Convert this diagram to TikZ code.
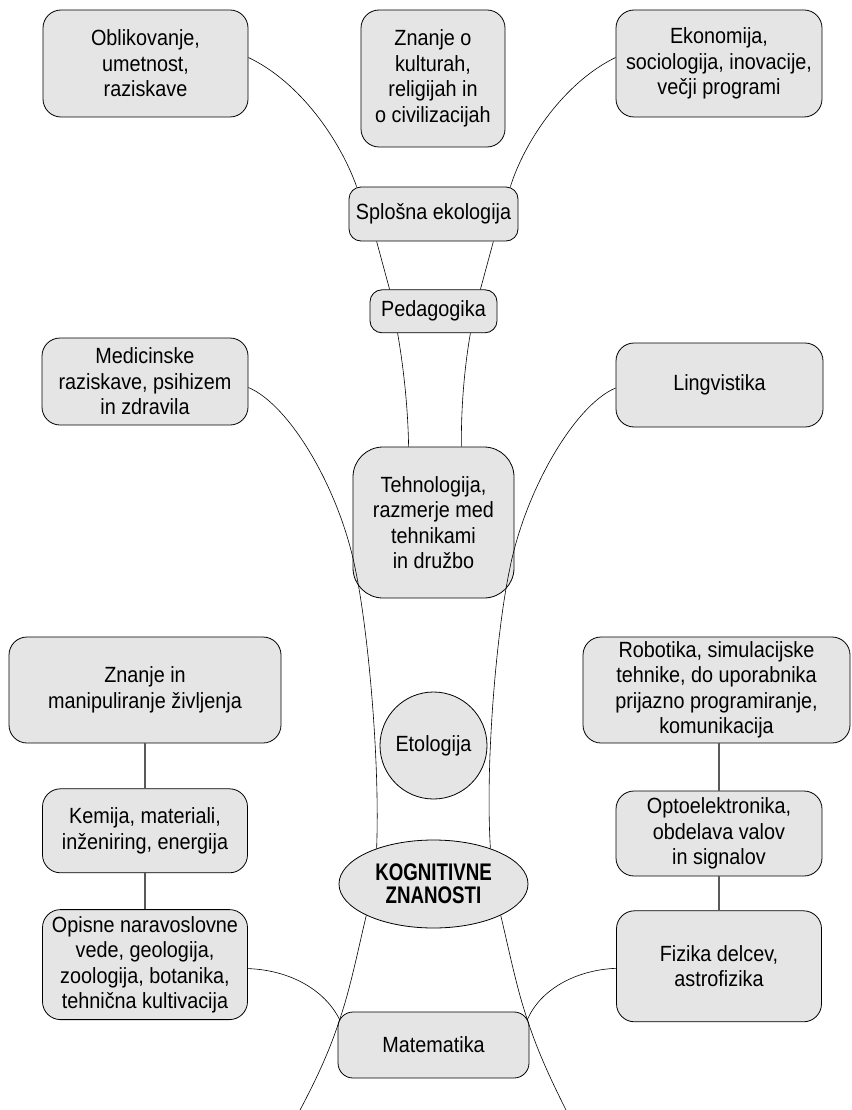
\documentclass[tikz,border=0pt]{standalone}
\usepackage{fontspec}
\setmainfont{Liberation Sans}[FakeStretch=0.9]
\newfontfamily\kogfont{Liberation Sans}[FakeStretch=0.78]
\usetikzlibrary{shapes.geometric, positioning}

\begin{document}
\begin{tikzpicture}[x=1pt, y=-1pt,
    box/.style={draw, line width=0.8pt, fill=black!10, rounded corners=18pt,
      align=center, font=\fontsize{22}{25.5}\selectfont},
    tag/.style={box, rounded corners=12pt},
    link/.style={line width=0.6pt},
    stem/.style={line width=1.6pt, black!65}]

\useasboundingbox (0,0) rectangle (851,1110);

% top row
\node[box, minimum width=205pt, minimum height=107pt] (obl) at (145.5,63.5) {Oblikovanje,\\umetnost,\\raziskave};
\node[box, minimum width=144pt, minimum height=137pt] (kul) at (433,78.5) {Znanje o\\kulturah,\\religijah in\\o civilizacijah};
\node[box, minimum width=206pt, minimum height=107pt] (eko) at (719,63.5) {Ekonomija,\\sociologija, inovacije,\\večji programi};

\node[tag, minimum width=169pt, minimum height=54pt] (spl) at (433.5,214) {Splošna ekologija};
\node[tag, minimum width=127pt, minimum height=43pt, below=48pt of spl] (ped) {Pedagogika};

% middle
\node[box, minimum width=206pt, minimum height=87pt] (med) at (145,381.5) {Medicinske\\raziskave, psihizem\\in zdravila};
\node[box, minimum width=207pt, minimum height=84pt] (ling) at (719.5,385) {Lingvistika};
\node[box, rounded corners=30pt, minimum width=161pt, minimum height=151pt] (tech) at (433.5,522.5) {Tehnologija,\\razmerje med\\tehnikami\\in družbo};

% left column
\node[box, minimum width=272pt, minimum height=106pt] (man) at (145,690) {Znanje in\\manipuliranje življenja};
\node[box, minimum width=205pt, minimum height=84pt, below=45pt of man] (kem) {Kemija, materiali,\\inženiring, energija};
\node[box, minimum width=205pt, minimum height=110pt, below=36pt of kem] (opi) {Opisne naravoslovne\\vede, geologija,\\zoologija, botanika,\\tehnična kultivacija};

% centre
\node[box, circle, minimum size=107pt, inner sep=0pt] (eto) at (433.5,745.5) {Etologija};
\node[box, ellipse, minimum width=189pt, minimum height=88pt, inner sep=0pt,
  font=\kogfont\bfseries\fontsize{24}{23}\selectfont] (kog) at (433.5,884) {KOGNITIVNE\\ZNANOSTI};
\node[box, rounded corners=15pt, minimum width=191pt, minimum height=66pt] (mat) at (433.5,1045) {Matematika};

% right column
\node[box, minimum width=267pt, minimum height=106pt] (rob) at (716.5,690) {Robotika, simulacijske\\tehnike, do uporabnika\\prijazno programiranje,\\komunikacija};
\node[box, minimum width=206pt, minimum height=85pt] (opt) at (719,833.5) {Optoelektronika,\\obdelava valov\\in signalov};
\node[box, minimum width=205pt, minimum height=111pt, below=34pt of opt] (fiz) {Fizika delcev,\\astrofizika};

\coordinate (tl) at ([shift={(3pt,-48pt)}]tech.west);
\coordinate (tr) at ([shift={(-5pt,-48pt)}]tech.east);
\coordinate (ml) at ([shift={(2pt,-8pt)}]mat.north west);
\coordinate (mr) at ([shift={(-2pt,-8pt)}]mat.north east);
\coordinate (bl) at (300,1110);
\coordinate (br) at (566,1110);

% upper spine
\draw[link] ([yshift=6pt]obl.east) .. controls (300,82) and (340,140) .. ([xshift=8pt]spl.north west);
\draw[link] ([yshift=6pt]eko.west) .. controls (565,82) and (525,140) .. ([xshift=-8pt]spl.north east);
\draw[link] ([xshift=28pt]spl.south west) -- ([xshift=20pt]ped.north west);
\draw[link] ([xshift=-25pt]spl.south east) -- ([xshift=-17pt]ped.north east);
\draw[link] ([xshift=28pt]ped.south west) .. controls (404,370) and (408,410) .. ([xshift=56pt]tech.north west);
\draw[link] ([xshift=-27pt]ped.south east) .. controls (464,370) and (461,410) .. ([xshift=-53pt]tech.north east);

% long curves
\draw[link] ([yshift=-6pt]med.east) .. controls (290,405) and (340,490) .. (tl)
  .. controls (368,630) and (380,760) .. (kog.148);
\draw[link] ([yshift=-3pt]ling.west) .. controls (575,405) and (525,490) .. (tr)
  .. controls (497,630) and (485,760) .. (kog.32);

% lower spine
\draw[link] (kog.205) .. controls (358,950) and (350,990) .. (ml)
  .. controls (330,1050) and (316,1080) .. (bl);
\draw[link] (kog.-25) .. controls (509,950) and (517,990) .. (mr)
  .. controls (537,1050) and (551,1080) .. (br);
\draw[link] ([yshift=-4pt]opi.east) .. controls (290,970) and (325,990) .. (ml);
\draw[link] ([yshift=-2pt]fiz.west) .. controls (575,970) and (540,990) .. (mr);

% stems
\draw[stem] (man) -- (kem);
\draw[stem] (kem) -- (opi);
\draw[stem] (opt.north |- rob.south) -- (opt.north);
\draw[stem] (opt) -- (fiz);

\end{tikzpicture}
\end{document}
